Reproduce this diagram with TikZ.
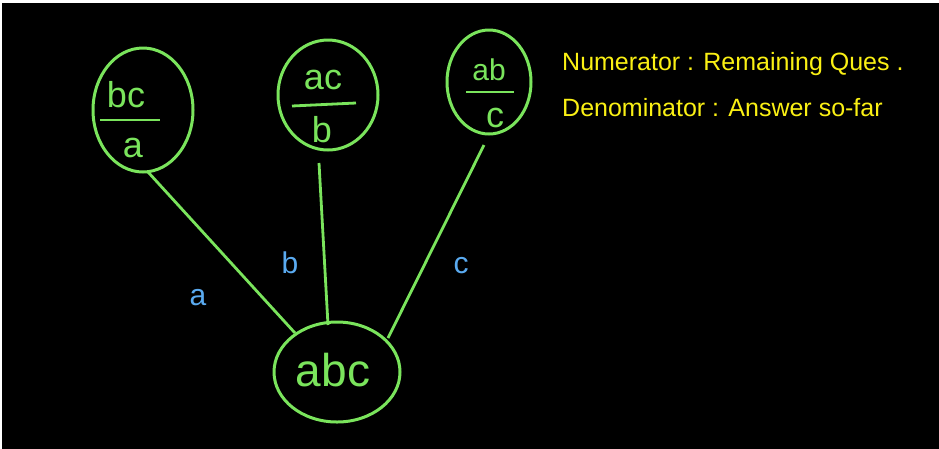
\documentclass[tikz,border=0pt]{standalone}
\usepackage{fontspec}
\setmainfont{Liberation Sans}
\definecolor{gr}{RGB}{122,228,92}
\definecolor{bl}{RGB}{90,170,240}
\definecolor{yl}{RGB}{250,240,20}
\begin{document}
\begin{tikzpicture}[x=1pt,y=-1pt,
  ring/.style={draw=gr,line width=3pt},
  edge/.style={draw=gr,line width=2.8pt},
  gtxt/.style={text=gr,inner sep=0pt,font=\fontsize{36}{38}\selectfont},
  btxt/.style={text=bl,inner sep=0pt,font=\fontsize{30}{32}\selectfont},
  ytxt/.style={text=yl,inner sep=0pt,anchor=west,font=\fontsize{25}{27}\selectfont}]
\useasboundingbox (0,0) rectangle (939,448);
\fill[white] (0,0) rectangle (939,448);
\fill[black] (2,3) rectangle (960,470);
% circles
\draw[ring] (143,110) ellipse [x radius=50,y radius=62];
\draw[ring] (328,95) ellipse [x radius=50,y radius=55];
\draw[ring] (489,82) ellipse [x radius=42,y radius=52];
\draw[ring] (337,372) ellipse [x radius=63,y radius=50];
% fractions
\node[gtxt] (ln) at (126,95) {bc};
\draw[edge] (100,120) -- (160,120);
\node[gtxt] (ld) at (133,148) {a};
\node[gtxt] (mn) at (323,80) {ac};
\draw[edge] (292,106) -- (356,103);
\node[gtxt] (md) at (322,130) {b};
\node[gtxt,font=\fontsize{30}{32}\selectfont] (rn) at (489,70) {ab};
\draw[edge] (466,92) -- (514,92);
\node[gtxt] (rd) at (495,118) {c};
\node[gtxt,font=\fontsize{46}{48}\selectfont] (bt) at (333,370) {abc};
% edges
\coordinate (le) at (148,172);
\coordinate (me) at (319,163);
\coordinate (re) at (484,145);
\coordinate (lb) at (295,333);
\coordinate (mb) at (328,325);
\coordinate (rb) at (388,338);
\draw[edge] (le) -- (lb);
\draw[edge] (me) -- (mb);
\draw[edge] (re) -- (rb);
% edge labels
\node[btxt] (ea) at (198,298) {a};
\node[btxt] (eb) at (290,263) {b};
\node[btxt] (ec) at (461,266) {c};
% legend
\node[ytxt] (t1) at (562,64) {Numerator : Remaining Ques .};
\node[ytxt] (t2) at (562,108) {Denominator : Answer so-far};
\end{tikzpicture}
\end{document}
